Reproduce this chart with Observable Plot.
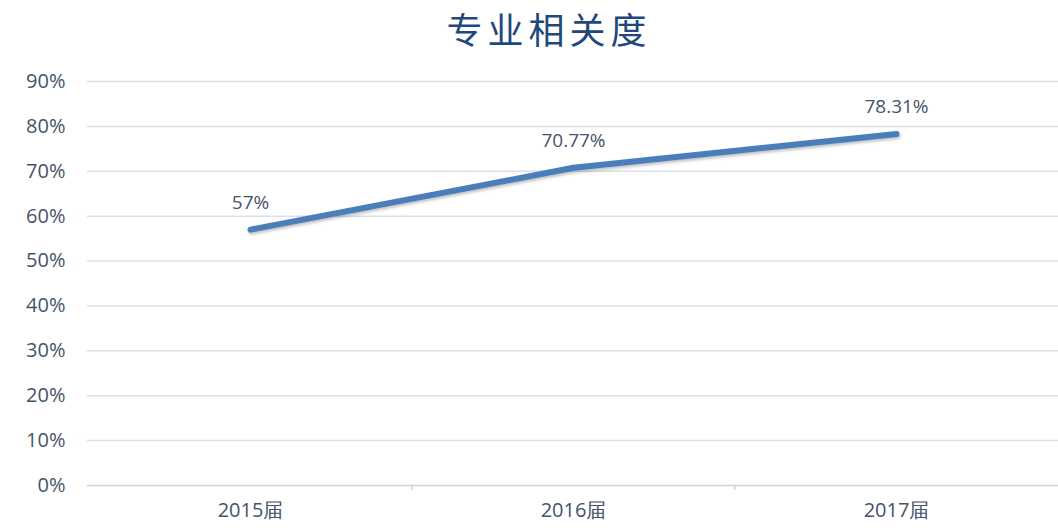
<!DOCTYPE html>
<html>
<head>
<meta charset="utf-8">
<script src="https://cdn.jsdelivr.net/npm/d3@7"></script>
<script src="https://cdn.jsdelivr.net/npm/@observablehq/plot@0.6"></script>
<style>
  html, body { margin: 0; padding: 0; background: #fff; }
  #title {
    height: 65px; box-sizing: border-box;
    text-align: center; padding-left: 40px; padding-top: 5px;
    font-family: "Noto Sans CJK SC", sans-serif; font-size: 36px;
    letter-spacing: 5px; color: #1f487c; line-height: 46px;
  }
  g[aria-label="line"] path { filter: drop-shadow(1px 2px 1.5px rgba(0,0,0,0.25)); }
</style>
</head>
<body>
<div id="title">专业相关度</div>
<div id="chart"></div>
<script>
const categories = ["2015届", "2016届", "2017届"];
const values = [57, 70.77, 78.31];
const valueLabels = ["57%", "70.77%", "78.31%"];
const yTicks = [0, 10, 20, 30, 40, 50, 60, 70, 80, 90];
const boundaries = ["2016届", "2017届"];

const data = categories.map((c, i) => ({cat: c, v: values[i], label: valueLabels[i]}));

const W = 1058, H = 467, ML = 87, MR = 0;
const step = (W - ML - MR) / categories.length;
const textColor = "#44546a";

const chart = Plot.plot({
  width: W,
  height: H,
  marginLeft: ML,
  marginRight: MR,
  marginTop: 16,
  marginBottom: 47,
  style: {fontFamily: "'Open Sans', sans-serif", fontSize: "19px", color: textColor, background: "#fff"},
  x: {type: "point", domain: categories, padding: 0.5, label: null},
  y: {domain: [0, 90], label: null},
  marks: [
    Plot.ruleY(yTicks.filter(t => t > 0), {stroke: "#d8e1ea", strokeWidth: 1.5}),
    Plot.ruleY([0], {stroke: "#c9d4df", strokeWidth: 1.5}),
    Plot.ruleX(boundaries, {x: d => d, dx: -step / 2, y1: 0, y2: 0, insetBottom: -5, stroke: "#c9d4df", strokeWidth: 1.5}),
    Plot.axisY({ticks: yTicks, tickFormat: d => d + "%", tickSize: 0, tickPadding: 22, fill: textColor, fontSize: 20}),
    Plot.axisX({tickSize: 0, tickPadding: 17, fill: textColor, fontSize: 20}),
    Plot.line(data, {x: "cat", y: "v", stroke: "#4a7ebb", strokeWidth: 6, strokeLinecap: "round", strokeLinejoin: "round"}),
    Plot.text(data, {x: "cat", y: "v", text: "label", dy: -27, fill: textColor, fontSize: 19})
  ]
});
document.getElementById("chart").appendChild(chart);
</script>
</body>
</html>
